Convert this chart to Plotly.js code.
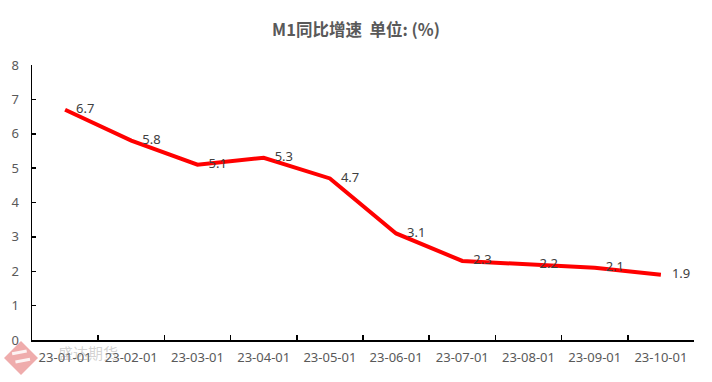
<!DOCTYPE html>
<html>
<head>
<meta charset="utf-8">
<script src="https://cdn.plot.ly/plotly-3.0.1.min.js"></script>
<style>html,body{margin:0;padding:0;background:#fff;}#chart{width:712px;height:382px;}</style>
</head>
<body>
<div id="chart"></div>
<script>
const categories = ["23-01-01","23-02-01","23-03-01","23-04-01","23-05-01","23-06-01","23-07-01","23-08-01","23-09-01","23-10-01"];
const m1Growth = [6.7, 5.8, 5.1, 5.3, 4.7, 3.1, 2.3, 2.2, 2.1, 1.9];
const labelText = m1Growth.map(v => v.toFixed(1));
const yTicks = [0,1,2,3,4,5,6,7,8];

const trace = {
  x: categories,
  y: m1Growth,
  type: "scatter",
  mode: "lines+markers+text",
  line: {color: "#FF0000", width: 4},
  marker: {size: 16, color: "rgba(0,0,0,0)", line: {width: 0}},
  text: labelText,
  textposition: "middle right",
  textfont: {family: "Noto Sans, sans-serif", size: 13, color: "#404040"},
  hoverinfo: "none",
  cliponaxis: false
};

const layout = {
  width: 712, height: 382,
  margin: {l: 32, r: 18, t: 65, b: 42},
  paper_bgcolor: "#fff", plot_bgcolor: "#fff",
  showlegend: false,
  title: {
    text: "<b>M1同比增速  单位: (%)</b>",
    font: {family: "Noto Sans CJK SC, sans-serif", size: 16.5, color: "#595959"},
    x: 0.5, xanchor: "center", y: 0.92, yanchor: "middle"
  },
  xaxis: {
    type: "category",
    range: [-0.5, 9.5],
    tickson: "boundaries",
    ticks: "inside", ticklen: 5, tickwidth: 1.5, tickcolor: "#000",
    showline: true, linecolor: "#000", linewidth: 1.5,
    showgrid: false, zeroline: false,
    tickfont: {family: "Noto Sans, sans-serif", size: 13, color: "#595959"},
    ticklabelstandoff: 5,
    fixedrange: true
  },
  yaxis: {
    range: [0, 8],
    tickvals: yTicks,
    ticks: "inside", ticklen: 4, tickwidth: 1.5, tickcolor: "#000",
    showline: true, linecolor: "#000", linewidth: 1.5,
    showgrid: false, zeroline: false,
    tickfont: {family: "Noto Sans, sans-serif", size: 13, color: "#595959"},
    ticklabelstandoff: 9,
    fixedrange: true
  },
  shapes: [{
    type: "path", xref: "paper", yref: "paper", layer: "above",
    path: "M -0.0166,-0.0037 L 0.0091,-0.0655 L -0.0166,-0.1273 L -0.0423,-0.0655 Z",
    fillcolor: "rgba(220,70,70,0.45)", line: {width: 0}
  }, {
    type: "path", xref: "paper", yref: "paper", layer: "above",
    path: "M -0.030,-0.050 L -0.008,-0.040 M -0.025,-0.080 L -0.003,-0.070",
    line: {color: "rgba(255,255,255,0.85)", width: 3}
  }],
  annotations: [{
    xref: "paper", yref: "paper", x: 0.036, y: -0.044, xanchor: "left", yanchor: "middle",
    text: "盛达期货", showarrow: false,
    font: {family: "Noto Sans CJK SC, sans-serif", size: 15, color: "rgba(140,140,140,0.4)"}
  }]
};

Plotly.newPlot("chart", [trace], layout, {displayModeBar: false, staticPlot: true});
</script>
</body>
</html>
